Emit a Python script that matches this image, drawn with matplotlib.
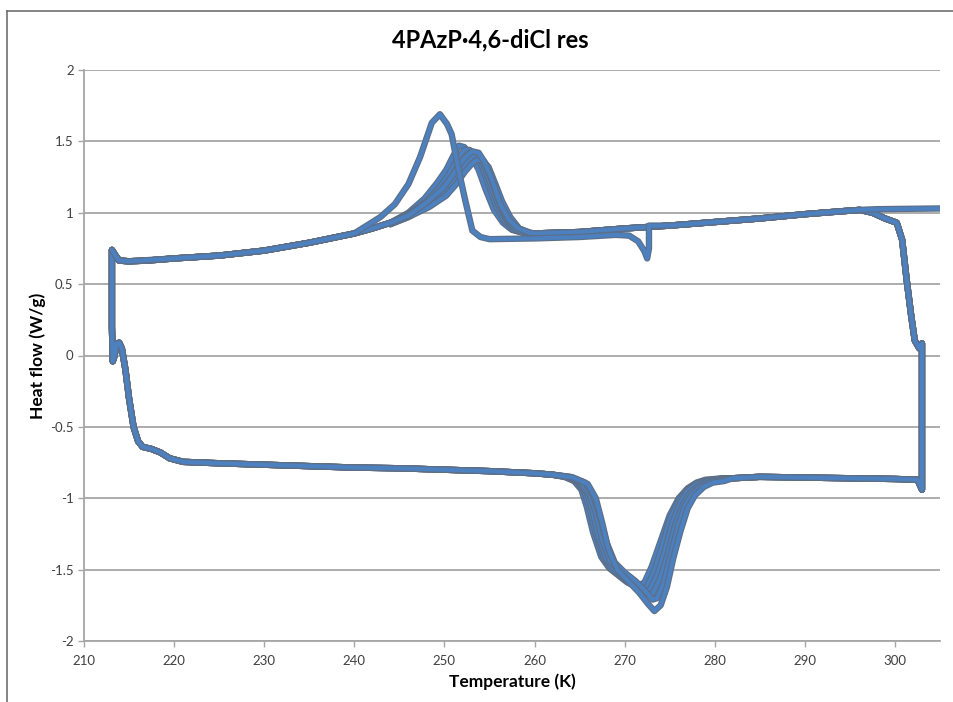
import matplotlib
matplotlib.use("Agg")
import matplotlib.pyplot as plt
import matplotlib.patheffects as pe
from matplotlib.lines import Line2D

# ---------------- data ----------------
title = "4PAzP·4,6-diCl res"
xlabel = "Temperature (K)"
ylabel = "Heat flow (W/g)"
x_ticks = [210, 220, 230, 240, 250, 260, 270, 280, 290, 300]
y_ticks = [-2, -1.5, -1, -0.5, 0, 0.5, 1, 1.5, 2]
y_tick_labels = ["-2", "-1.5", "-1", "-0.5", "0", "0.5", "1", "1.5", "2"]

# heating branch, start (common to all cycles)
heat_start_T = [213.2, 213.1, 213.1, 213.5, 213.9, 215, 217, 220, 225, 230, 235, 240, 242, 244]
heat_start_HF = [-0.04, 0.2, 0.74, 0.70, 0.665, 0.66, 0.665, 0.68, 0.70, 0.735, 0.79, 0.855, 0.89, 0.93]

# heating branch, transition peak (one list per cycle)
peak_T = [
    [244, 246, 247.8, 249.2, 250.2, 251.0, 251.6, 252.2, 253.0, 253.8, 254.6, 255.5, 256.5, 257.5, 259],
    [244, 246, 248.0, 249.5, 250.5, 251.4, 252.2, 252.8, 253.5, 254.2, 255.0, 255.8, 256.7, 257.7, 259],
    [244, 246, 248.0, 249.7, 250.8, 251.7, 252.3, 252.8, 253.6, 254.4, 255.2, 256.0, 257.0, 258.0, 259],
    [244, 246, 248.2, 250.0, 251.0, 252.0, 252.6, 253.2, 253.9, 254.6, 255.3, 256.1, 257.0, 258.0, 259],
    [244, 246, 248.3, 250.2, 251.3, 252.3, 253.0, 253.6, 254.2, 254.9, 255.6, 256.4, 257.3, 258.3, 259.5],
    [244, 246, 248.0, 249.8, 250.9, 251.8, 252.5, 253.1, 253.8, 254.5, 255.3, 256.2, 257.2, 258.2, 259.5],
]
peak_HF = [
    [0.93, 1.00, 1.10, 1.21, 1.30, 1.40, 1.47, 1.46, 1.40, 1.30, 1.16, 1.02, 0.93, 0.88, 0.855],
    [0.93, 0.99, 1.08, 1.18, 1.27, 1.37, 1.44, 1.44, 1.40, 1.32, 1.18, 1.04, 0.94, 0.88, 0.855],
    [0.92, 0.98, 1.06, 1.16, 1.25, 1.34, 1.39, 1.42, 1.41, 1.33, 1.19, 1.05, 0.94, 0.88, 0.86],
    [0.92, 0.97, 1.05, 1.14, 1.22, 1.31, 1.36, 1.40, 1.40, 1.34, 1.22, 1.07, 0.95, 0.88, 0.86],
    [0.92, 0.97, 1.04, 1.12, 1.20, 1.29, 1.34, 1.37, 1.37, 1.32, 1.21, 1.08, 0.97, 0.89, 0.86],
    [0.93, 0.98, 1.07, 1.17, 1.26, 1.35, 1.40, 1.43, 1.42, 1.35, 1.23, 1.06, 0.95, 0.89, 0.86],
]

# heating branch, end and jump to the cooling branch (common)
heat_end_T = [260, 265, 270, 275, 280, 285, 290, 294, 296.1, 297.5, 298.9, 300.2, 300.8, 301.3, 301.8, 302.2, 302.7, 303.0, 303.0, 302.5]
heat_end_HF = [0.855, 0.865, 0.89, 0.91, 0.935, 0.96, 0.99, 1.01, 1.02, 1.0, 0.96, 0.93, 0.81, 0.53, 0.28, 0.105, 0.05, 0.085, -0.94, -0.87]

# cooling branch, start (common)
cool_start_T = [302.5, 300, 295, 290, 285, 282]
cool_start_HF = [-0.87, -0.865, -0.86, -0.855, -0.85, -0.86]

# cooling branch, transition dip (one list per cycle)
dip_T = [
    [281, 279, 278, 277, 276, 275, 274, 273.0, 272.2, 271.3, 270.3, 269.3, 268.3, 267.4, 266.5, 265.8, 265.2, 264.4, 263.3, 262],
    [281, 279, 278, 277, 276, 275, 274.2, 273.3, 272.5, 271.7, 270.7, 269.6, 268.6, 267.7, 266.8, 266.1, 265.5, 264.7, 263.4, 262],
    [281, 279, 278, 277, 276.2, 275.3, 274.5, 273.6, 272.8, 272.1, 271.1, 270.0, 268.9, 268.0, 267.1, 266.4, 265.8, 264.9, 263.5, 262],
    [281, 279.2, 278.3, 277.3, 276.5, 275.6, 274.8, 273.9, 273.1, 272.5, 271.6, 270.5, 269.4, 268.4, 267.5, 266.8, 266.1, 265.2, 263.7, 262],
    [281, 279.5, 278.5, 277.5, 276.7, 275.9, 275.1, 274.3, 273.6, 273.1, 272.3, 271.2, 270.0, 268.9, 268.0, 267.2, 266.5, 265.6, 264.0, 262],
    [281, 279.8, 278.8, 277.8, 277.0, 276.2, 275.4, 274.7, 274.0, 273.3, 272.6, 271.6, 270.4, 269.2, 268.2, 267.5, 266.8, 265.9, 264.3, 262],
]
dip_HF = [
    [-0.86, -0.87, -0.89, -0.93, -1.00, -1.12, -1.30, -1.48, -1.59, -1.62, -1.59, -1.54, -1.49, -1.41, -1.24, -1.06, -0.94, -0.88, -0.85, -0.835],
    [-0.86, -0.875, -0.895, -0.94, -1.02, -1.15, -1.33, -1.51, -1.62, -1.64, -1.60, -1.55, -1.50, -1.42, -1.25, -1.07, -0.95, -0.88, -0.85, -0.835],
    [-0.86, -0.88, -0.90, -0.95, -1.03, -1.17, -1.36, -1.54, -1.64, -1.66, -1.61, -1.56, -1.50, -1.43, -1.27, -1.08, -0.96, -0.885, -0.85, -0.835],
    [-0.865, -0.88, -0.91, -0.96, -1.04, -1.19, -1.39, -1.57, -1.67, -1.68, -1.63, -1.57, -1.51, -1.44, -1.29, -1.10, -0.97, -0.89, -0.85, -0.835],
    [-0.87, -0.885, -0.915, -0.97, -1.05, -1.20, -1.40, -1.60, -1.70, -1.71, -1.65, -1.58, -1.52, -1.45, -1.31, -1.12, -0.98, -0.89, -0.85, -0.835],
    [-0.88, -0.89, -0.92, -0.98, -1.07, -1.23, -1.42, -1.62, -1.75, -1.79, -1.74, -1.66, -1.58, -1.50, -1.36, -1.17, -1.00, -0.90, -0.855, -0.835],
]

# cooling branch, end and jump to the next heating (common)
cool_end_T = [260, 255, 250, 245, 240, 235, 230, 225, 221, 219.5, 218.5, 217.5, 216.5, 216.0, 215.5, 215.0, 214.6, 214.2, 213.9, 213.6, 213.4, 213.2]
cool_end_HF = [-0.825, -0.81, -0.80, -0.79, -0.785, -0.775, -0.765, -0.755, -0.745, -0.72, -0.68, -0.655, -0.64, -0.60, -0.50, -0.30, -0.10, 0.05, 0.09, 0.08, 0.0, -0.04]

# one different heating run
odd_T = [213.1, 213.5, 213.9, 215, 220, 225, 230, 235, 240, 242.9, 244.5, 246.0, 247.3, 248.6, 249.5, 250.3, 250.8,
         251.5, 252.3, 253.1, 254.0, 255.0, 260, 265, 269, 270.5, 271.5, 272.2, 272.5, 272.7, 272.7,
         275, 280, 285, 290, 294, 296.1, 298, 305]
odd_HF = [0.74, 0.70, 0.665, 0.66, 0.68, 0.70, 0.735, 0.79, 0.855, 0.97, 1.06, 1.20, 1.39, 1.63, 1.69, 1.62, 1.55,
          1.32, 1.09, 0.875, 0.83, 0.815, 0.82, 0.83, 0.845, 0.84, 0.80, 0.73, 0.68, 0.75, 0.91,
          0.91, 0.935, 0.96, 0.99, 1.01, 1.02, 1.025, 1.03]

# ---------------- figure ----------------
plt.rcParams['font.family'] = ['Lato', 'DejaVu Sans']
fig = plt.figure(figsize=(9.54, 7.02), dpi=100)
ax = fig.add_axes([84 / 954, 61 / 702, 856 / 954, 571 / 702])

line_color = '#4C80BE'
edge = [pe.Stroke(linewidth=4.6, foreground='#5E6E85'), pe.Normal()]

for i in range(len(peak_T)):
    T = heat_start_T + peak_T[i] + heat_end_T + cool_start_T + dip_T[i] + cool_end_T
    H = heat_start_HF + peak_HF[i] + heat_end_HF + cool_start_HF + dip_HF[i] + cool_end_HF
    ax.plot(T, H, color=line_color, lw=3.0, solid_joinstyle='round', solid_capstyle='round',
            path_effects=edge, zorder=3)
ax.plot(odd_T, odd_HF, color=line_color, lw=3.0, solid_joinstyle='round', solid_capstyle='round',
        path_effects=edge, zorder=3)

ax.set_xlim(210, 305)
ax.set_ylim(-2, 2)
ax.set_xticks(x_ticks)
ax.set_xticklabels([str(v) for v in x_ticks])
ax.set_yticks(y_ticks)
ax.set_yticklabels(y_tick_labels)
ax.yaxis.grid(True, color='#A6A6A6', lw=1.3, zorder=0)
ax.set_axisbelow(True)
for s in ['top', 'right']:
    ax.spines[s].set_visible(False)
for s in ['left', 'bottom']:
    ax.spines[s].set_color('#A6A6A6')
    ax.spines[s].set_linewidth(1.3)
ax.tick_params(axis='both', colors='#A6A6A6', labelcolor='#404040', labelsize=9.5, length=4, width=1, direction='out')
ax.tick_params(axis='x', pad=6)

ax.set_xlabel(xlabel, fontsize=12.5, fontweight='bold', color='#000000')
ax.set_ylabel(ylabel, fontsize=12.5, fontweight='bold', color='#000000')
ax.xaxis.set_label_coords(0.5, -(682 - 641) / 571, transform=ax.transAxes)
ax.yaxis.set_label_coords(-(84 - 38) / 856, 0.5, transform=ax.transAxes)
ax.xaxis.label.set_va('center')
ax.yaxis.label.set_va('center')
fig.text(490 / 954, 1 - 40 / 702, title, ha='center', va='center', fontsize=17, fontweight='bold')

# chart-area border (left and top visible)
fig.add_artist(Line2D([7 / 954, 7 / 954], [0, 1 - 11 / 702], transform=fig.transFigure, color='#707070', lw=1.2))
fig.add_artist(Line2D([7 / 954, 1], [1 - 11 / 702, 1 - 11 / 702], transform=fig.transFigure, color='#707070', lw=1.2))

fig.savefig('out.png', dpi=100)
